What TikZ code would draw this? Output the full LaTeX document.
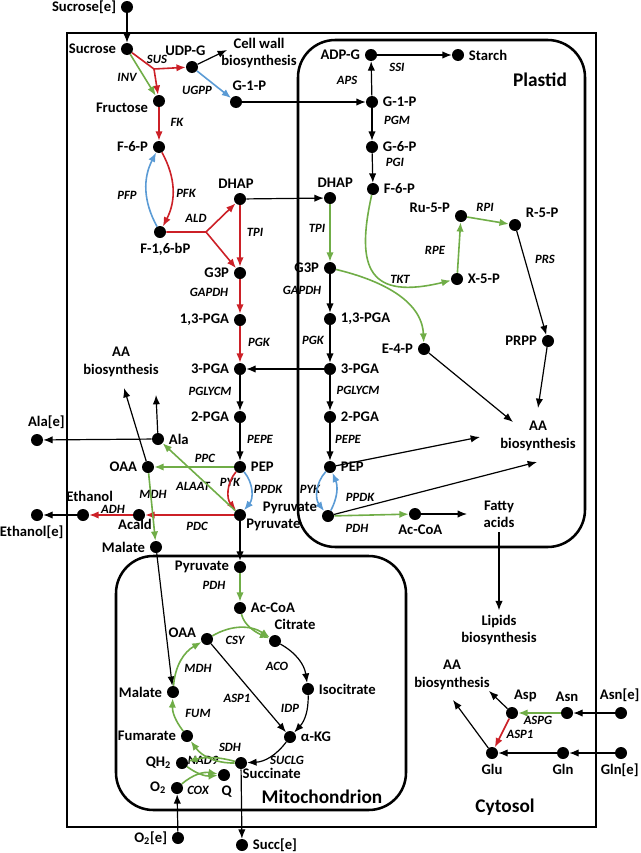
\documentclass[tikz,border=0pt]{standalone}
\usepackage{fontspec}
\setmainfont{Carlito}
\usetikzlibrary{arrows.meta}

\definecolor{fxred}{RGB}{204,32,39}
\definecolor{fxgreen}{RGB}{112,173,71}
\definecolor{fxblue}{RGB}{91,155,213}

\begin{document}
\begin{tikzpicture}[x=0.75pt, y=-0.75pt,
  font=\bfseries\fontsize{11}{13}\selectfont,
  >={Latex[length=7pt,width=5.5pt]},
  met/.style={circle, fill=black, inner sep=0pt, minimum size=9pt},
  enz/.style={font=\bfseries\itshape\fontsize{9.5}{11}\selectfont, inner sep=1pt},
  txt/.style={align=center},
  comp/.style={font=\bfseries\fontsize{14.5}{17}\selectfont},
  fluxk/.style={->, line width=0.9pt},
  fluxr/.style={->, draw=fxred, line width=1.2pt},
  fluxg/.style={->, draw=fxgreen, line width=1.2pt},
  fluxb/.style={->, draw=fxblue, line width=1.2pt}]

\useasboundingbox (0,0) rectangle (640,853);

\draw[line width=2.2pt] (67,33) rectangle (596,827);
\draw[line width=1.9pt, rounded corners=28pt] (298,40) rectangle (585,547);
\draw[line width=1.9pt, rounded corners=28pt] (116,556) rectangle (406,810);

\node[comp] (plastid) at (540,80) {Plastid};
\node[comp] (mito) at (322,797) {Mitochondrion};
\node[comp] (cytosol) at (505,807) {Cytosol};

\node[met, label={left:Sucrose[e]}] (suce) at (127,7) {};
\node[met, label={left:Sucrose}] (suc) at (127,49) {};
\node[met, label={[xshift=-5pt]above:UDP-G}] (udpg) at (192,67) {};
\node[met, label={[yshift=-5pt]left:Fructose}] (fru) at (159,101) {};
\node[met, label={left:F-6-P}] (f6p) at (159,147) {};
\node[met, label={[xshift=10pt]above:G-1-P}] (cg1p) at (236,102) {};
\node[met, label={[xshift=4pt]below:{F-1,6-bP}}] (f16bp) at (160,232) {};
\node[met, label={[xshift=-3pt]above:DHAP}] (dhap) at (240,199) {};
\node[met, label={left:G3P}] (g3p) at (240,273) {};
\node[met, label={left:{1,3-PGA}}] (pga13) at (240,320) {};
\node[met, label={left:3-PGA}] (pga3) at (240,369) {};
\node[met, label={left:2-PGA}] (pga2) at (240,417) {};
\node[met, label={right:PEP}] (pep) at (240,467) {};
\node[met, label={[xshift=25pt, yshift=5pt]below:Pyruvate}] (pyr) at (240,515) {};
\node[met, label={right:Ala}] (ala) at (158,439) {};
\node[met, label={[xshift=7pt]above:Ala[e]}] (alae) at (37,440) {};
\node[met, label={left:OAA}] (oaa) at (148,467) {};
\node[met, label={[xshift=-3pt, yshift=5pt]below:Acald}] (acald) at (139,515) {};
\node[met, label={[xshift=5pt, yshift=2pt]above:Ethanol}] (eth) at (83,515) {};
\node[met, label={[xshift=-4pt]below:Ethanol[e]}] (ethe) at (37,515) {};
\node[met, label={left:Malate}] (mal) at (156,547) {};

\node[txt] (cwall) at (259,53) {Cell wall\\biosynthesis};
\node[txt] (aaL) at (121,362) {AA\\biosynthesis};
\coordinate (cwtip) at (227,50);
\coordinate (aaL1) at (156,395);
\coordinate (aaL2) at (124,388);

\node[met, label={left:ADP-G}] (adpg) at (371,55) {};
\node[met, label={right:Starch}] (starch) at (458,55) {};
\node[met, label={right:G-1-P}] (pg1p) at (372,102) {};
\node[met, label={right:G-6-P}] (g6p) at (372,147) {};
\node[met, label={right:F-6-P}] (pf6p) at (373,189) {};
\node[met, label={[xshift=4pt]above:DHAP}] (pdhap) at (330,198) {};
\node[met, label={[yshift=6pt]left:Ru-5-P}] (ru5p) at (461,216) {};
\node[met, label={[yshift=9pt]right:R-5-P}] (r5p) at (515,225) {};
\node[met, label={left:G3P}] (pg3p) at (330,268) {};
\node[met, label={right:X-5-P}] (x5p) at (457,279) {};
\node[met, label={right:{1,3-PGA}}] (p13) at (330,319) {};
\node[met, label={right:3-PGA}] (p3) at (330,369) {};
\node[met, label={right:2-PGA}] (p2) at (330,417) {};
\node[met, label={right:PEP}] (ppep) at (330,467) {};
\node[met, label={[yshift=6pt]left:Pyruvate}] (ppyr) at (328,516) {};
\node[met, label={left:E-4-P}] (e4p) at (424,349) {};
\node[met, label={left:PRPP}] (prpp) at (548,341) {};
\node[met, label={[xshift=4pt]below:Ac-CoA}] (paccoa) at (415,514) {};

\node[txt] (aaP) at (538,436) {AA\\biosynthesis};
\node[txt] (fatty) at (499,514) {Fatty\\acids};
\node[txt] (lipids) at (499,630) {Lipids\\biosynthesis};
\coordinate (aaP1) at (538,408);
\coordinate (aaP2) at (513,422);
\coordinate (aaP3) at (480,437);
\coordinate (aaP4) at (537,462);
\coordinate (fatip) at (467,514);

\node[met, label={[xshift=10pt]above:Asp}] (asp) at (512,713) {};
\node[met, label={above:Asn}] (asn) at (567,713) {};
\node[met, label={[xshift=-1pt]above:Asn[e]}] (asne) at (621,713) {};
\node[met, label={below:Glu}] (glu) at (492,753) {};
\node[met, label={below:Gln}] (gln) at (563,753) {};
\node[met, label={[xshift=-1pt]below:Gln[e]}] (glne) at (621,753) {};
\node[txt] (aaR) at (452,675) {AA\\biosynthesis};
\coordinate (aaR1) at (489,691);
\coordinate (aaR2) at (453,700);

\node[met, label={left:Pyruvate}] (mpyr) at (240,567) {};
\node[met, label={right:Ac-CoA}] (maccoa) at (240,608) {};
\node[met, label={[xshift=15pt]above:Citrate}] (cit) at (275,641) {};
\node[met, label={[yshift=5pt]left:OAA}] (moaa) at (207,639) {};
\node[met, label={right:Isocitrate}] (icit) at (308,689) {};
\node[met, label={right:α-KG}] (akg) at (290,737) {};
\node[met, label={[xshift=23pt, yshift=4pt]below:Succinate}] (succ) at (241,763) {};
\node[met, label={left:Fumarate}] (fum) at (187,736) {};
\node[met, label={left:Malate}] (mmal) at (173,692) {};
\node[met, label={left:QH\textsubscript{2}}] (qh2) at (182,763) {};
\node[met, label={[xshift=2pt]below:Q}] (q) at (224,775) {};
\node[met, label={left:O\textsubscript{2}}] (o2) at (177,788) {};
\node[met, label={left:O\textsubscript{2}[e]}] (o2e) at (178,838) {};
\node[met, label={right:Succ[e]}] (succe) at (242,845) {};

\node[enz] (sus) at (157,59) {SUS};
\node[enz] (inv) at (127,77) {INV};
\node[enz] (ugpp) at (197,90) {UGPP};
\node[enz] (fk) at (177,122) {FK};
\node[enz] (pfp) at (127,195) {PFP};
\node[enz] (pfk) at (186,193) {PFK};
\node[enz] (ald) at (196,218) {ALD};
\node[enz] (tpi) at (255,232) {TPI};
\node[enz] (gapdh) at (209,292) {GAPDH};
\node[enz] (pgk) at (259,342) {PGK};
\node[enz] (pglycm) at (210,391) {PGLYCM};
\node[enz] (pepe) at (260,439) {PEPE};
\node[enz] (ppc) at (205,458) {PPC};
\node[enz] (pyk) at (230,482) {PYK};
\node[enz] (ppdk) at (268,489) {PPDK};
\node[enz] (alaat) at (193,486) {ALAAT};
\node[enz] (mdh) at (153,494) {MDH};
\node[enz] (adh) at (113,509) {ADH};
\node[enz] (pdc) at (197,526) {PDC};

\node[enz] (ssi) at (397,67) {SSI};
\node[enz] (aps) at (347,80) {APS};
\node[enz] (pgm) at (397,120) {PGM};
\node[enz] (pgi) at (395,162) {PGI};
\node[enz] (rpi) at (485,207) {RPI};
\node[enz] (ptpi) at (317,228) {TPI};
\node[enz] (rpe) at (435,250) {RPE};
\node[enz] (prs) at (545,259) {PRS};
\node[enz] (tkt) at (400,279) {TKT};
\node[enz] (pgapdh) at (302,290) {GAPDH};
\node[enz] (ppgk) at (313,340) {PGK};
\node[enz] (ppglycm) at (358,390) {PGLYCM};
\node[enz] (ppepe) at (348,439) {PEPE};
\node[enz] (ppyk) at (310,489) {PYK};
\node[enz] (pppdk) at (360,497) {PPDK};
\node[enz] (ppdh) at (357,528) {PDH};

\node[enz] (mpdh) at (214,585) {PDH};
\node[enz] (csy) at (235,640) {CSY};
\node[enz] (aco) at (277,666) {ACO};
\node[enz] (mmdh) at (198,668) {MDH};
\node[enz] (asp1m) at (237,698) {ASP1};
\node[enz] (idp) at (290,708) {IDP};
\node[enz] (fum-e) at (198,713) {FUM};
\node[enz] (sdh) at (230,747) {SDH};
\node[enz] (suclg) at (287,760) {SUCLG};
\node[enz] (nad9) at (203,760) {NAD9};
\node[enz] (cox) at (198,790) {COX};
\node[enz] (aspg) at (538,720) {ASPG};
\node[enz] (asp1c) at (520,734) {ASP1};

\coordinate (susj) at (154,69);
\coordinate (aldj) at (206,232);

\draw[fluxk] (suce) -- (suc);
\draw[fluxr] (suc) -- (susj) -- (udpg);
\draw[fluxr] (susj) -- (fru);
\draw[fluxg] (suc) -- (fru);
\draw[fluxk] (udpg) -- (cwtip);
\draw[fluxb] (udpg) -- (cg1p);
\draw[fluxr] (fru) -- (f6p);
\draw[fluxr] (f6p) to[bend left=28] (f16bp);
\draw[fluxb] (f16bp) to[bend left=28] (f6p);
\draw[fluxr] (f16bp) -- (aldj) -- (dhap);
\draw[fluxr] (aldj) -- (g3p);
\draw[fluxr] (dhap) -- (g3p);
\draw[fluxr] (g3p) -- (pga13);
\draw[fluxr] (pga13) -- (pga3);
\draw[fluxk] (pga3) -- (pga2);
\draw[fluxk] (pga2) -- (pep);
\draw[fluxg] (pep) -- (oaa);
\draw[fluxr] (pep) to[bend right=40] (pyr);
\draw[fluxb] (pep) to[bend left=40] (pyr);
\draw[fluxg] (pyr) -- (ala);
\draw[fluxr] (pyr) -- (acald);
\draw[fluxr] (acald) -- (eth);
\draw[fluxk] (eth) -- (ethe);
\draw[fluxk] (ala) -- (alae);
\draw[fluxg] (oaa) -- (mal);
\draw[fluxk] (ala) -- (aaL1);
\draw[fluxk] (oaa) -- (aaL2);
\draw[fluxk] (pyr) -- (mpyr);
\draw[fluxk] (mal) -- (mmal);
\draw[fluxk] (cg1p) -- (pg1p);
\draw[fluxk] (dhap) -- (pdhap);
\draw[fluxk] (p3) -- (pga3);

\draw[fluxk] (pg1p) -- (adpg);
\draw[fluxk] (adpg) -- (starch);
\draw[fluxk] (pg1p) -- (g6p);
\draw[fluxk] (g6p) -- (pf6p);
\draw[fluxg] (pdhap) -- (pg3p);
\draw[fluxk] (pg3p) -- (p13);
\draw[fluxk] (p13) -- (p3);
\draw[fluxk] (p3) -- (p2);
\draw[fluxk] (p2) -- (ppep);
\draw[fluxb] (ppep) to[bend right=40] (ppyr);
\draw[fluxb] (ppyr) to[bend right=25] (ppep);
\draw[fluxg] (ppyr) -- (paccoa);
\draw[fluxk] (paccoa) -- (fatip);
\draw[fluxk] (ppep) -- (aaP3);
\draw[fluxk] (ppyr) -- (aaP4);
\draw[fluxk] (fatty.south) -- (lipids.north);
\draw[fluxg] (pf6p) .. controls (355,270) and (370,300) .. (x5p);
\draw[fluxg] (pg3p) .. controls (380,280) and (422,300) .. (e4p);
\draw[fluxg] (x5p) -- (ru5p);
\draw[fluxg] (ru5p) -- (r5p);
\draw[fluxk] (r5p) -- (prpp);
\draw[fluxk] (prpp) -- (aaP1);
\draw[fluxk] (e4p) -- (aaP2);

\draw[fluxk] (asne) -- (asn);
\draw[fluxg] (asn) -- (asp);
\draw[fluxk] (asp) -- (aaR1);
\draw[fluxr] (asp) -- (glu);
\draw[fluxk] (glne) -- (gln);
\draw[fluxk] (gln) -- (glu);
\draw[fluxk] (glu) -- (aaR2);

\draw[fluxg] (mpyr) -- (maccoa);
\draw[fluxg] (moaa) to[bend left=32] (cit);
\draw[fluxg] (maccoa) .. controls (244,625) and (255,632) .. (cit);
\draw[fluxk] (cit) to[bend left=26] (icit);
\draw[fluxk] (icit) to[bend left=22] (akg);
\draw[fluxk] (akg) to[bend left=25] (succ);
\draw[fluxg] (succ) to[bend left=27] (fum);
\draw[fluxg] (fum) to[bend left=20] (mmal);
\draw[fluxg] (mmal) to[bend left=28] (moaa);
\draw[fluxk] (moaa) -- (akg);
\draw[fluxg] (succ) to[bend right=15] (qh2);
\draw[fluxg] (qh2) to[bend right=20] (q);
\draw[fluxg] (o2) to[bend left=25] (q);
\draw[fluxk] (o2e) -- (o2);
\draw[fluxk] (succ) -- (succe);

\end{tikzpicture}
\end{document}
